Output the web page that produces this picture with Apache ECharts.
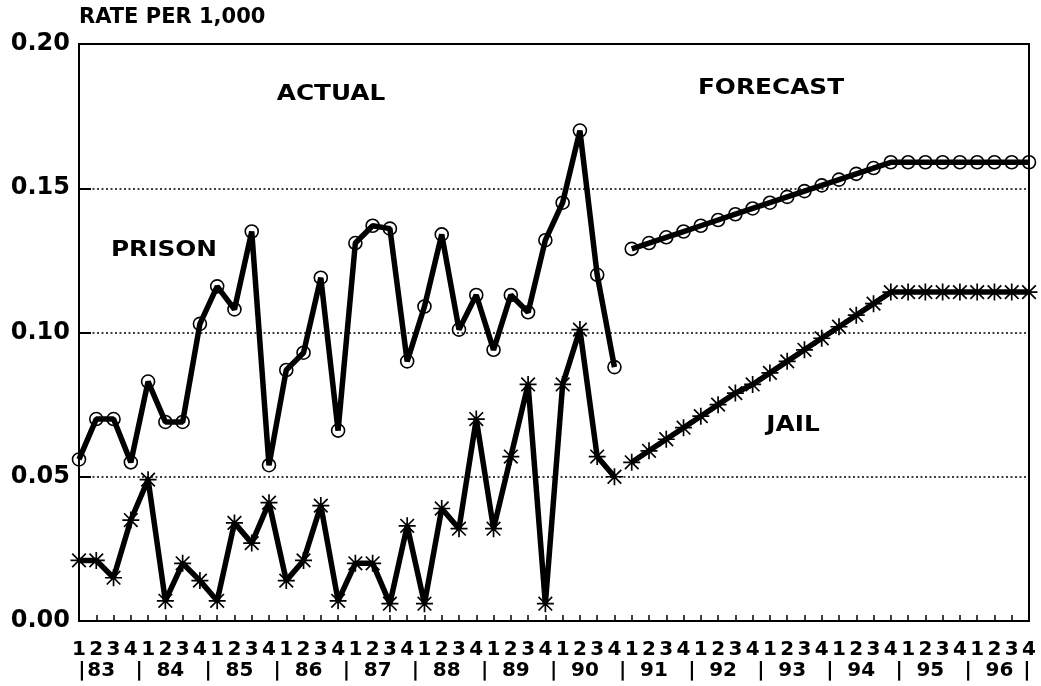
<!DOCTYPE html>
<html>
<head>
<meta charset="utf-8">
<script src="https://cdn.jsdelivr.net/npm/echarts@6/dist/echarts.min.js"></script>
<style>
  html, body { margin: 0; padding: 0; background: #fff; }
  #chart { width: 1041px; height: 686px; }
</style>
</head>
<body>
<div id="chart"></div>
<script>
// Quarterly incarceration rates per 1,000, 1983-1990 actual, 1991-1996 forecast
const years = ['83', '84', '85', '86', '87', '88', '89', '90', '91', '92', '93', '94', '95', '96'];
const quarters = ['1', '2', '3', '4'];
const yTicks = [0, 0.05, 0.10, 0.15, 0.20];

const prisonActual = [
  0.056, 0.070, 0.070, 0.055,
  0.083, 0.069, 0.069, 0.103,
  0.116, 0.108, 0.135, 0.054,
  0.087, 0.093, 0.119, 0.066,
  0.131, 0.137, 0.136, 0.090,
  0.109, 0.134, 0.101, 0.113,
  0.094, 0.113, 0.107, 0.132,
  0.145, 0.170, 0.120, 0.088
];
const prisonForecast = [
  0.129, 0.131, 0.133, 0.135,
  0.137, 0.139, 0.141, 0.143,
  0.145, 0.147, 0.149, 0.151,
  0.153, 0.155, 0.157, 0.159,
  0.159, 0.159, 0.159, 0.159,
  0.159, 0.159, 0.159, 0.159
];
const jailActual = [
  0.021, 0.021, 0.015, 0.035,
  0.049, 0.007, 0.020, 0.014,
  0.007, 0.034, 0.027, 0.041,
  0.014, 0.021, 0.040, 0.007,
  0.020, 0.020, 0.006, 0.033,
  0.006, 0.039, 0.032, 0.070,
  0.032, 0.057, 0.082, 0.006,
  0.082, 0.101, 0.057, 0.050
];
const jailForecast = [
  0.055, 0.059, 0.063, 0.067,
  0.071, 0.075, 0.079, 0.082,
  0.086, 0.090, 0.094, 0.098,
  0.102, 0.106, 0.110, 0.114,
  0.114, 0.114, 0.114, 0.114,
  0.114, 0.114, 0.114, 0.114
];

// One category per quarter
const categories = [];
years.forEach(y => quarters.forEach(q => categories.push(y + 'Q' + q)));

const nAll = categories.length;
const pad = n => new Array(n).fill('-');
const actualSeries = arr => arr.concat(pad(nAll - arr.length));
const forecastSeries = arr => pad(nAll - arr.length).concat(arr);

const FONT = '"DejaVu Sans", "Liberation Sans", Arial, sans-serif';
const ASTERISK = 'path://M0 9H20V11H0Z M9 0H11V20H9Z M1.3 2.7L2.7 1.3L18.7 17.3L17.3 18.7Z M17.3 1.3L18.7 2.7L2.7 18.7L1.3 17.3Z';

const lbl = { fontFamily: FONT, fontWeight: 'bold', fontSize: 20, lineHeight: 21, color: '#000', align: 'center' };

// Quarter digit on the first row; year numbers and "|" year separators on the second
function quarterLabel(value, index) {
  const q = quarters[index % 4];
  const yi = Math.floor(index / 4);
  let second = '{blank| }';
  if (index === 0) second = '{sepFirst||}';
  else if (index === nAll - 1) second = '{sepLast||}';
  else if (index % 4 === 0) second = '{sep||}';
  else if (index % 4 === 1) second = '{yr|' + years[yi] + '}';
  return '{q|' + q + '}\n' + second;
}

const prisonCircle = {
  symbol: 'circle',
  symbolSize: 13,
  itemStyle: { color: 'rgba(255,255,255,0)', borderColor: '#000', borderWidth: 1.6 },
  lineStyle: { color: '#000', width: 5.5 }
};
const jailStar = {
  symbol: ASTERISK,
  symbolSize: 17,
  itemStyle: { color: '#000' },
  lineStyle: { color: '#000', width: 5.5 }
};

const chart = echarts.init(document.getElementById('chart'), null, { renderer: 'canvas' });

chart.setOption({
  backgroundColor: '#fff',
  animation: false,
  grid: {
    left: 79, right: 12, top: 44, bottom: 65,
    show: true, borderColor: '#000', borderWidth: 2, backgroundColor: 'transparent'
  },
  xAxis: {
    type: 'category',
    data: categories,
    boundaryGap: false,
    axisLine: { show: true, lineStyle: { color: '#000', width: 2 } },
    axisTick: { show: true, inside: true, length: 6, interval: 0, lineStyle: { color: '#000', width: 1.5 } },
    splitLine: { show: false },
    axisLabel: {
      interval: 0,
      margin: 18,
      formatter: quarterLabel,
      rich: {
        q: lbl,
        yr: Object.assign({}, lbl, { padding: [0, 0, 0, 10] }),
        sep: Object.assign({}, lbl, { padding: [0, 18, 0, 0] }),
        sepFirst: Object.assign({}, lbl, { padding: [0, 0, 0, 6] }),
        sepLast: Object.assign({}, lbl, { padding: [0, 4, 0, 0] }),
        blank: lbl
      }
    }
  },
  yAxis: {
    type: 'value',
    min: yTicks[0],
    max: yTicks[yTicks.length - 1],
    interval: 0.05,
    name: 'RATE PER 1,000',
    nameLocation: 'end',
    nameGap: 16,
    nameTextStyle: { fontFamily: FONT, fontWeight: 'bold', fontSize: 21, color: '#000', align: 'left', verticalAlign: 'bottom' },
    axisLine: { show: true, lineStyle: { color: '#000', width: 2 } },
    axisTick: { show: true, inside: true, length: 12, lineStyle: { color: '#000', width: 2 } },
    axisLabel: {
      margin: 9,
      fontFamily: FONT, fontWeight: 'bold', fontSize: 24, color: '#000',
      formatter: v => v.toFixed(2)
    },
    splitLine: { show: true, lineStyle: { color: '#000', width: 1.5, type: [2, 2.5] } }
  },
  graphic: [
    { type: 'text', x: 331, y: 95, scaleX: 1.18, style: { text: 'ACTUAL', font: 'bold 21px ' + FONT, fill: '#000', textAlign: 'center', textVerticalAlign: 'middle' } },
    { type: 'text', x: 771, y: 89, scaleX: 1.18, style: { text: 'FORECAST', font: 'bold 21px ' + FONT, fill: '#000', textAlign: 'center', textVerticalAlign: 'middle' } },
    { type: 'text', x: 164, y: 251, scaleX: 1.18, style: { text: 'PRISON', font: 'bold 21px ' + FONT, fill: '#000', textAlign: 'center', textVerticalAlign: 'middle' } },
    { type: 'text', x: 793, y: 426, scaleX: 1.18, style: { text: 'JAIL', font: 'bold 21px ' + FONT, fill: '#000', textAlign: 'center', textVerticalAlign: 'middle' } }
  ],
  series: [
    Object.assign({ name: 'Prison actual', type: 'line', data: actualSeries(prisonActual), showAllSymbol: true, connectNulls: false, z: 3 }, prisonCircle),
    Object.assign({ name: 'Prison forecast', type: 'line', data: forecastSeries(prisonForecast), showAllSymbol: true, connectNulls: false, z: 3 }, prisonCircle),
    Object.assign({ name: 'Jail actual', type: 'line', data: actualSeries(jailActual), showAllSymbol: true, connectNulls: false, z: 3 }, jailStar),
    Object.assign({ name: 'Jail forecast', type: 'line', data: forecastSeries(jailForecast), showAllSymbol: true, connectNulls: false, z: 3 }, jailStar)
  ]
});
</script>
</body>
</html>
